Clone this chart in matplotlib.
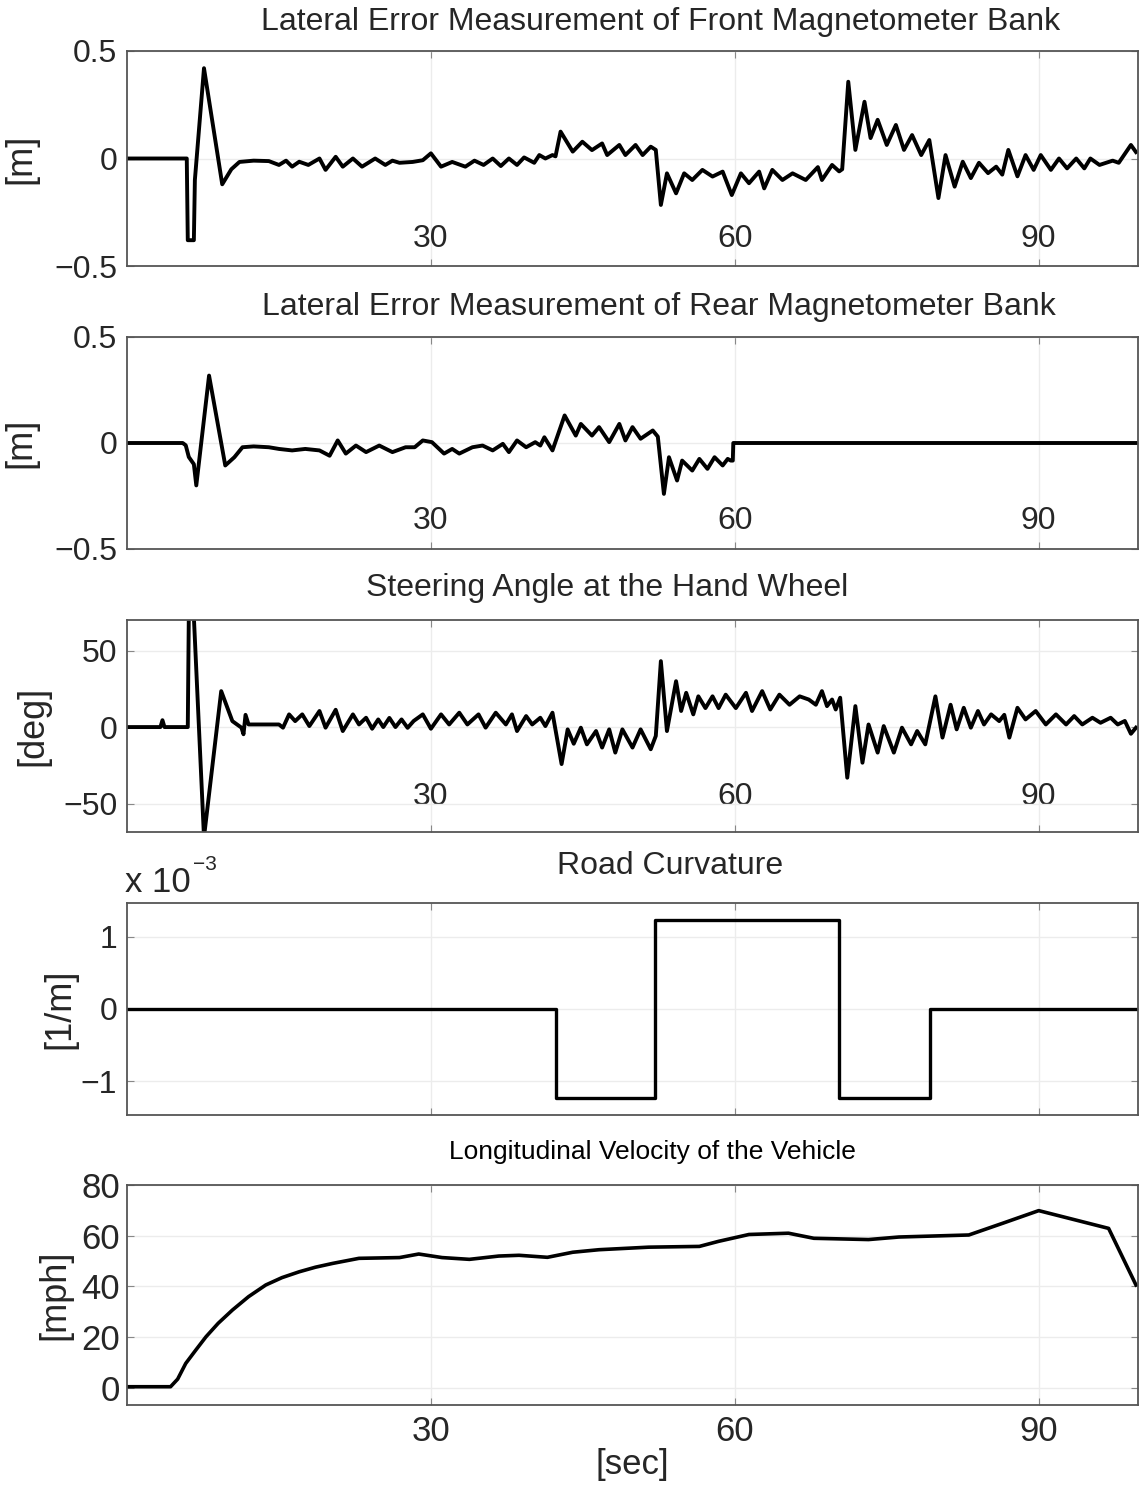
import matplotlib
matplotlib.use("Agg")
import matplotlib.pyplot as plt

plt.rcParams['font.family'] = ['Liberation Sans', 'DejaVu Sans']

# lateral error, front magnetometer bank [m]
t_front = [0, 5.9, 6.0, 6.6, 6.7, 7.6, 9.4, 10.3, 11.1, 12.5, 14.0, 15.0, 15.7, 16.3, 17.0,
           17.9, 19.0, 19.6, 20.6, 21.3, 22.3, 23.2, 24.5, 25.5, 26.2, 26.9, 28.2, 29.2, 30.0,
           31.0, 32.1, 33.4, 34.3, 35.2, 36.1, 36.9, 37.7, 38.5, 39.2, 40.2, 40.7, 41.3, 42.0,
           42.3, 42.8, 44.0, 44.95, 45.9, 46.9, 47.4, 48.6, 49.2, 50.2, 50.9, 51.7, 52.2, 52.7,
           53.3, 54.2, 55.0, 55.8, 56.8, 57.8, 58.8, 59.7, 60.6, 61.4, 62.4, 62.9, 63.7, 64.7,
           65.7, 67.0, 68.2, 68.6, 69.6, 70.3, 70.6, 71.2, 71.9, 72.8, 73.4, 74.1, 75.0, 75.9,
           76.7, 77.5, 78.4, 79.2, 80.1, 80.8, 81.7, 82.5, 83.3, 84.1, 85.0, 85.8, 86.4, 87.0,
           87.9, 88.7, 89.5, 90.2, 91.2, 92.0, 92.8, 93.7, 94.5, 95.1, 96.0, 97.3, 97.9, 99.1,
           99.6]
e_front = [0, 0, -0.38, -0.38, -0.1, 0.42, -0.12, -0.05, -0.016, -0.01, -0.012, -0.03, -0.01,
           -0.038, -0.015, -0.03, 0.0, -0.053, 0.008, -0.038, 0.0, -0.038, 0.0, -0.03, -0.01,
           -0.02, -0.016, -0.008, 0.024, -0.038, -0.016, -0.038, -0.01, -0.03, 0.0, -0.035, 0.0,
           -0.03, 0.005, -0.02, 0.016, 0.0, 0.016, 0.01, 0.125, 0.032, 0.078, 0.039, 0.07, 0.016,
           0.063, 0.016, 0.063, 0.016, 0.055, 0.04, -0.216, -0.069, -0.162, -0.069, -0.1, -0.053,
           -0.084, -0.061, -0.17, -0.069, -0.115, -0.061, -0.139, -0.053, -0.1, -0.069, -0.1,
           -0.04, -0.1, -0.03, -0.06, -0.05, 0.357, 0.04, 0.264, 0.095, 0.18, 0.063, 0.156, 0.04,
           0.109, 0.016, 0.086, -0.184, 0.016, -0.131, -0.015, -0.091, -0.02, -0.068, -0.038,
           -0.075, 0.04, -0.083, 0.016, -0.053, 0.016, -0.053, 0.0, -0.046, 0.0, -0.046, 0.0,
           -0.03, -0.01, -0.02, 0.063, 0.03]

# lateral error, rear magnetometer bank [m]
t_rear = [0, 5.5, 5.8, 6.1, 6.6, 6.84, 8.1, 9.7, 10.6, 11.4, 12.5, 14.0, 15.0, 16.3, 17.6, 19.0,
          20.0, 20.8, 21.6, 22.6, 23.6, 24.9, 26.2, 27.5, 28.4, 29.2, 30.1, 31.3, 32.1, 32.8,
          34.1, 35.1, 36.1, 37.1, 37.7, 38.5, 39.4, 40.3, 40.8, 41.2, 42.0, 43.2, 44.3, 44.8,
          45.9, 46.6, 47.6, 48.6, 49.2, 49.9, 50.7, 51.9, 52.4, 53.0, 53.5, 54.3, 54.8, 55.8,
          56.5, 57.3, 58.0, 58.8, 59.3, 59.6, 59.8, 59.85, 99.7]
e_rear = [0, 0, -0.011, -0.066, -0.1, -0.2, 0.318, -0.106, -0.067, -0.02, -0.016, -0.02, -0.028,
          -0.035, -0.028, -0.035, -0.06, 0.012, -0.05, -0.012, -0.043, -0.012, -0.043, -0.02,
          -0.02, 0.012, 0.004, -0.05, -0.028, -0.05, -0.02, -0.012, -0.035, -0.004, -0.043,
          0.012, -0.02, 0.004, -0.012, 0.027, -0.035, 0.13, 0.035, 0.09, 0.035, 0.075, 0.004,
          0.09, 0.012, 0.075, 0.02, 0.059, 0.03, -0.24, -0.067, -0.177, -0.083, -0.13, -0.075,
          -0.122, -0.067, -0.106, -0.075, -0.083, -0.083, 0.0, 0.0]

# hand wheel steering angle [deg]
t_steer = [0, 3.3, 3.5, 3.7, 6.0, 6.1, 6.6, 7.6, 9.3, 10.4, 11.3, 11.5, 11.7, 12.0, 15.0, 15.4,
           16.0, 16.6, 17.3, 18.0, 19.0, 19.6, 20.6, 21.3, 22.3, 22.9, 23.6, 24.2, 24.8, 25.3,
           25.9, 26.5, 27.1, 27.7, 28.3, 29.2, 30.0, 31.0, 31.8, 32.8, 33.6, 34.7, 35.4, 36.4,
           37.4, 38.0, 38.5, 39.4, 40.0, 40.8, 41.3, 42.0, 42.9, 43.5, 44.1, 44.8, 45.4, 46.3,
           46.9, 47.6, 48.2, 48.9, 49.9, 50.7, 51.7, 52.2, 52.7, 53.3, 54.2, 54.7, 55.2, 55.9,
           56.4, 57.1, 57.8, 58.4, 59.1, 60.1, 61.1, 61.7, 62.7, 63.5, 64.4, 65.4, 66.4, 67.3,
           68.0, 68.6, 69.1, 69.6, 69.96, 70.4, 71.1, 71.9, 72.6, 73.2, 74.1, 74.7, 75.7, 76.5,
           77.4, 78.0, 78.8, 79.8, 80.5, 81.3, 81.9, 82.6, 83.3, 84.0, 84.6, 85.3, 86.1, 86.6,
           87.1, 87.9, 88.7, 89.7, 90.7, 91.7, 92.7, 93.5, 94.3, 95.3, 96.1, 97.1, 97.8, 98.5,
           99.1, 99.6]
steer = [0, 0, 4.5, 0, 0, 72, 72, -72, 23.5, 3.9, -0.4, -4.7, 8, 1.7, 1.7, -0.4, 8.3, 3.9, 8.3,
         0.65, 10.5, -0.4, 11.3, -2.6, 8.3, 1.7, 6.1, -1.1, 5, 0, 6, 0, 5, -0.5, 4, 8.3, -1.1,
         8.3, 1.7, 9.4, 1.7, 8.3, -0.4, 9.4, 1.7, 8.3, -2.6, 7.2, 1.7, 6.1, 0.65, 9.4, -24.2,
         -1.5, -10.9, -0.4, -11.3, -2.6, -13.4, -1.5, -16.7, -1.5, -13.4, -1.5, -14.5, -5.8,
         43.1, -2.6, 30, 10.5, 22.4, 8.3, 20.1, 12.4, 20.1, 12.4, 21.2, 12.4, 22.4, 10.5, 23.5,
         11.5, 21.2, 14.6, 20.1, 18, 14.6, 23.5, 13.7, 18, 11.5, 19.2, -33.1, 13.7, -23.3, 1.7,
         -16.7, 0.65, -16.7, -0.4, -11.3, -2.6, -11.3, 20.1, -6.9, 14.6, -1.5, 12.6, -0.4, 10.5,
         1.7, 8.3, 3.9, 8, -6.9, 12.6, 5.0, 10.5, 1.7, 8.3, 1.7, 7.2, 1.7, 6.1, 2.8, 6.1, 1.7,
         4, -4.4, -0.4]

# road curvature [1/m]
t_curv = [0, 42.3, 42.3, 52.1, 52.1, 70.3, 70.3, 79.3, 79.3, 99.7]
curv = [0, 0, -1.23e-3, -1.23e-3, 1.23e-3, 1.23e-3, -1.23e-3, -1.23e-3, 0, 0]

# longitudinal velocity [mph]
t_vel = [0, 4.3, 5.0, 5.8, 6.8, 7.8, 9.0, 10.4, 12.0, 13.7, 15.3, 17.0, 18.6, 20.3, 22.9, 26.9,
         28.8, 31.1, 33.8, 36.7, 38.7, 41.5, 44.0, 46.6, 51.5, 56.5, 58.4, 61.4, 65.3, 67.8,
         73.2, 76.2, 83.1, 86.5, 90.0, 96.9, 99.6]
vel = [0.5, 0.5, 3.5, 9.7, 15.0, 20.2, 25.5, 30.7, 36.0, 40.6, 43.5, 45.8, 47.6, 49.1, 51.1,
       51.4, 52.8, 51.4, 50.7, 52, 52.3, 51.5, 53.5, 54.5, 55.5, 55.8, 57.8, 60.5, 61, 59, 58.5,
       59.5, 60.3, 65, 69.9, 62.9, 40.6]

xticks = [30, 60, 90]
txt = '#262626'

fig = plt.figure(figsize=(11.43, 14.9), dpi=100)
W, H = 1143.0, 1490.0


def make_axes(top, bottom, tsize=23):
    ax = fig.add_axes([127 / W, 1 - bottom / H, (1138 - 127) / W, (bottom - top) / H])
    ax.set_xlim(0, 99.8)
    ax.set_xticks(xticks)
    ax.grid(True, color='#ececec', lw=1.0)
    ax.tick_params(direction='in', top=True, right=True, length=5, width=0.8,
                   color='#888888', labelsize=tsize, labelcolor=txt)
    ax.tick_params(axis='y', pad=7)
    for s in ax.spines.values():
        s.set_color('#555555')
        s.set_linewidth(1.3)
    return ax


def label_y(ax, text, right_px):
    ax.set_ylabel(text, fontsize=26, color=txt)
    ax.yaxis.set_label_coords((right_px - 127) / (1138 - 127), 0.5)


# front bank
ax1 = make_axes(51, 266)
ax1.plot(t_front, e_front, color='black', lw=2.8)
ax1.set_ylim(-0.5, 0.5)
ax1.set_yticks([-0.5, 0, 0.5])
ax1.set_yticklabels(['\u22120.5', '0', '0.5'])
ax1.tick_params(axis='x', pad=-30)
label_y(ax1, '[m]', 38)
fig.text(661 / W, 1 - 22 / H, 'Lateral Error Measurement of Front Magnetometer Bank',
         ha='center', va='center', fontsize=23, color=txt)

# rear bank
ax2 = make_axes(337, 549)
ax2.plot(t_rear, e_rear, color='black', lw=2.8)
ax2.set_ylim(-0.5, 0.5)
ax2.set_yticks([-0.5, 0, 0.5])
ax2.set_yticklabels(['\u22120.5', '0', '0.5'])
ax2.tick_params(axis='x', pad=-31)
label_y(ax2, '[m]', 38)
fig.text(659 / W, 1 - 307 / H, 'Lateral Error Measurement of Rear Magnetometer Bank',
         ha='center', va='center', fontsize=23, color=txt)

# steering
ax3 = make_axes(620, 832)
ax3.plot(t_steer, steer, color='black', lw=2.8)
ax3.set_ylim(-68.6, 70)
ax3.set_yticks([-50, 0, 50])
ax3.tick_params(axis='x', pad=-36)
label_y(ax3, '[deg]', 50)
fig.text(607 / W, 1 - 588 / H, 'Steering Angle at the Hand Wheel',
         ha='center', va='center', fontsize=23, color=txt)

# curvature
ax4 = make_axes(903, 1115)
ax4.plot(t_curv, curv, color='black', lw=2.4)
ax4.set_ylim(-1.47e-3, 1.47e-3)
ax4.set_yticks([-1e-3, 0, 1e-3])
ax4.set_yticklabels(['\u22121', '0', '1'])
ax4.set_xticklabels([])
label_y(ax4, '[1/m]', 77)
fig.text(670 / W, 1 - 866 / H, 'Road Curvature',
         ha='center', va='center', fontsize=23, color=txt)
fig.text(125 / W, 1 - 882 / H, 'x 10', ha='left', va='center', fontsize=25, color=txt)
fig.text(193 / W, 1 - 864 / H, '\u22123', ha='left', va='center', fontsize=15, color=txt)

# velocity
ax5 = make_axes(1185, 1405, tsize=25)
ax5.plot(t_vel, vel, color='black', lw=2.6)
ax5.set_ylim(-6.7, 80)
ax5.set_yticks([0, 20, 40, 60, 80])
ax5.tick_params(axis='x', pad=7)
ax5.tick_params(axis='y', pad=5)
label_y(ax5, '[mph]', 72)
ax5.set_xlabel('[sec]', fontsize=25, color=txt, labelpad=0)
fig.text(652 / W, 1 - 1152 / H, 'Longitudinal Velocity of the Vehicle',
         ha='center', va='center', fontsize=19, color='black')

fig.savefig('out.png', dpi=100)
